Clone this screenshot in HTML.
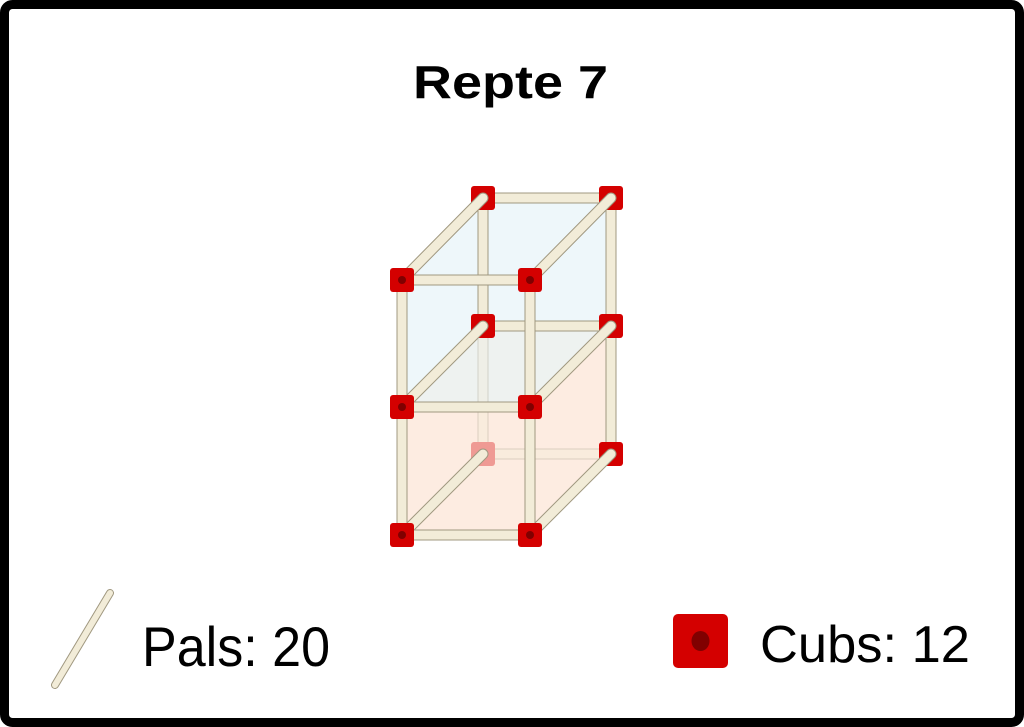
<!DOCTYPE html>
<html><head><meta charset="utf-8"><style>
html,body{margin:0;padding:0;background:#fff}
svg{display:block}
text{font-family:"Liberation Sans",Arial,sans-serif}
</style></head><body>
<svg width="1024" height="727" viewBox="0 0 1024 727" xmlns="http://www.w3.org/2000/svg">
<defs>
<g id="nd"><rect x="-12" y="-12" width="24" height="24" rx="3" fill="#d40000"/><circle r="4" fill="#800000"/></g>
</defs>
<rect x="0" y="0" width="1024" height="727" fill="#fff"/>
<rect x="4.5" y="4.5" width="1015" height="718" rx="8" fill="none" stroke="#000" stroke-width="9"/>
<text x="413" y="98" font-size="46" font-weight="bold" textLength="195" lengthAdjust="spacingAndGlyphs">Repte 7</text>

<!-- faces -->
<polygon points="402,280 483,198 611,198 611,326 530,407 402,407" fill="#eef7fa"/>
<polygon points="402,407 483,326 611,326 530,407" fill="#eef2f0"/>
<polygon points="402,407 530,407 611,326 611,454 530,535 402,535" fill="#fdece1"/>

<!-- hidden edges -->
<g stroke-linecap="round" opacity="0.35">
<line x1="483" y1="326" x2="483" y2="454" stroke="#a09880" stroke-width="11"/>
<line x1="483" y1="326" x2="483" y2="454" stroke="#f2ecd8" stroke-width="9"/>
<line x1="483" y1="454" x2="611" y2="454" stroke="#a09880" stroke-width="11"/>
<line x1="483" y1="454" x2="611" y2="454" stroke="#f2ecd8" stroke-width="9"/>
</g>
<rect x="471" y="442" width="24" height="24" rx="3" fill="#ef9a94"/>

<!-- back edges -->
<g stroke-linecap="round">
<g stroke="#a09880" stroke-width="11">
<line x1="483" y1="198" x2="611" y2="198"/><line x1="483" y1="198" x2="483" y2="326"/>
<line x1="611" y1="198" x2="611" y2="454"/><line x1="483" y1="326" x2="611" y2="326"/>
</g>
<g stroke="#f2ecd8" stroke-width="9">
<line x1="483" y1="198" x2="611" y2="198"/><line x1="483" y1="198" x2="483" y2="326"/>
<line x1="611" y1="198" x2="611" y2="454"/><line x1="483" y1="326" x2="611" y2="326"/>
</g>
</g>
<use href="#nd" x="483" y="198"/><use href="#nd" x="611" y="198"/>
<use href="#nd" x="483" y="326"/><use href="#nd" x="611" y="326"/><use href="#nd" x="611" y="454"/>

<!-- front edges + diagonals -->
<g stroke-linecap="round">
<g stroke="#a09880" stroke-width="11">
<line x1="402" y1="280" x2="530" y2="280"/><line x1="402" y1="407" x2="530" y2="407"/><line x1="402" y1="535" x2="530" y2="535"/>
<line x1="402" y1="280" x2="402" y2="535"/><line x1="530" y1="280" x2="530" y2="535"/>
<line x1="402" y1="280" x2="483" y2="198"/><line x1="530" y1="280" x2="611" y2="198"/>
<line x1="402" y1="407" x2="483" y2="326"/><line x1="530" y1="407" x2="611" y2="326"/>
<line x1="402" y1="535" x2="483" y2="454"/><line x1="530" y1="535" x2="611" y2="454"/>
</g>
<g stroke="#f2ecd8" stroke-width="9">
<line x1="402" y1="280" x2="530" y2="280"/><line x1="402" y1="407" x2="530" y2="407"/><line x1="402" y1="535" x2="530" y2="535"/>
<line x1="402" y1="280" x2="402" y2="535"/><line x1="530" y1="280" x2="530" y2="535"/>
<line x1="402" y1="280" x2="483" y2="198"/><line x1="530" y1="280" x2="611" y2="198"/>
<line x1="402" y1="407" x2="483" y2="326"/><line x1="530" y1="407" x2="611" y2="326"/>
<line x1="402" y1="535" x2="483" y2="454"/><line x1="530" y1="535" x2="611" y2="454"/>
</g>
</g>
<use href="#nd" x="402" y="280"/><use href="#nd" x="530" y="280"/>
<use href="#nd" x="402" y="407"/><use href="#nd" x="530" y="407"/>
<use href="#nd" x="402" y="535"/><use href="#nd" x="530" y="535"/>

<!-- legend -->
<line x1="55" y1="685" x2="110" y2="593" stroke="#a09880" stroke-width="8" stroke-linecap="round"/>
<line x1="55" y1="685" x2="110" y2="593" stroke="#f2ecd8" stroke-width="6" stroke-linecap="round"/>
<text x="142" y="666" font-size="56" textLength="188" lengthAdjust="spacingAndGlyphs">Pals: 20</text>
<rect x="673" y="614" width="55" height="54" rx="5" fill="#d40000"/>
<ellipse cx="700.5" cy="641" rx="9" ry="10" fill="#800000"/>
<text x="760" y="662" font-size="52" textLength="210" lengthAdjust="spacingAndGlyphs">Cubs: 12</text>
</svg>
</body></html>
